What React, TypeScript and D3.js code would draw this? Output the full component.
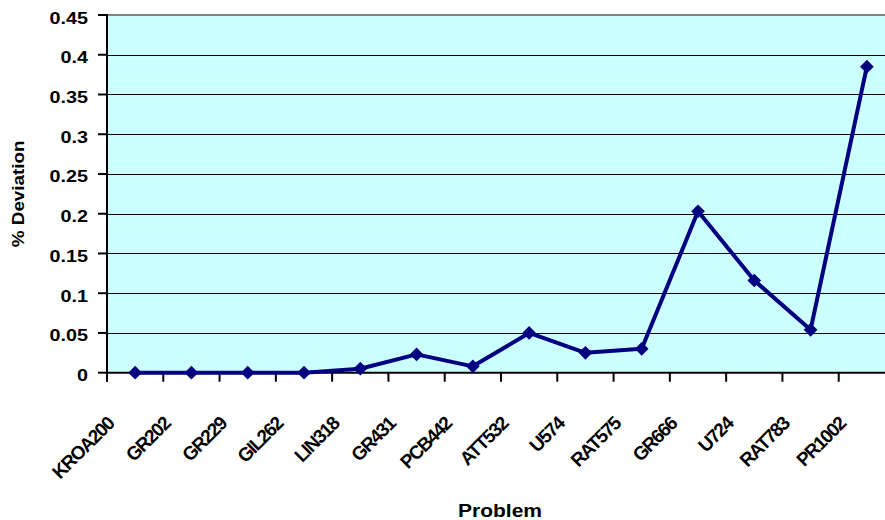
import React from "react";
import * as d3 from "d3";

const categories = ["KROA200","GR202","GR229","GIL262","LIN318","GR431","PCB442","ATT532","U574","RAT575","GR666","U724","RAT783","PR1002"];
const deviation = [0, 0, 0, 0, 0.005, 0.023, 0.008, 0.05, 0.025, 0.03, 0.203, 0.116, 0.054, 0.385];
const yTicks = [0, 0.05, 0.1, 0.15, 0.2, 0.25, 0.3, 0.35, 0.4, 0.45];
const yTickLabels = ["0","0.05","0.1","0.15","0.2","0.25","0.3","0.35","0.4","0.45"];

const W = 885, H = 520;
const plotLeft = 107, plotRight = 895, plotTop = 15, plotBottom = 372.7;
const FONT = "'Liberation Sans', Arial, Helvetica, sans-serif";

export default function App() {
  const x = d3.scaleBand<string>().domain(categories).range([plotLeft, plotRight]).paddingInner(0).paddingOuter(0);
  const y = d3.scaleLinear().domain([0, 0.45]).range([plotBottom, plotTop]);
  const cx = (c: string) => (x(c) as number) + x.bandwidth() / 2;
  const line = d3.line<number>().x((_, i) => cx(categories[i])).y((d) => y(d));
  const diamond = d3.symbol().type(d3.symbolDiamond2).size(120)();

  return (
    <svg width={W} height={H} style={{ position: "absolute", left: 0, top: 0, background: "#fff" }} fontFamily={FONT}>
      <rect x={plotLeft} y={plotTop} width={plotRight - plotLeft} height={plotBottom - plotTop} fill="#CCFFFF" />
      {yTicks.slice(1, -1).map((t) => (
        <line key={t} x1={plotLeft} x2={plotRight} y1={Math.round(y(t)) + 0.5} y2={Math.round(y(t)) + 0.5} stroke="#000" strokeWidth={1} />
      ))}
      <line x1={plotLeft} x2={plotRight} y1={y(0.45)} y2={y(0.45)} stroke="#808080" strokeWidth={2} />
      {/* y axis */}
      <line x1={plotLeft} x2={plotLeft} y1={plotTop - 1} y2={plotBottom + 9} stroke="#000" strokeWidth={2} />
      {yTicks.map((t, i) => (
        <g key={t}>
          <line x1={plotLeft - 9} x2={plotLeft} y1={y(t)} y2={y(t)} stroke="#000" strokeWidth={2} />
          <text transform={`translate(88,${y(t) + 8.5}) scale(1.2,1)`} textAnchor="end" fontSize={16.5} fontWeight="bold" fill="#000">
            {yTickLabels[i]}
          </text>
        </g>
      ))}
      {/* x axis */}
      <line x1={plotLeft} x2={plotRight} y1={plotBottom} y2={plotBottom} stroke="#000" strokeWidth={2} />
      {categories.map((c) => (
        <g key={c}>
          <line x1={x(c) as number} x2={x(c) as number} y1={plotBottom} y2={plotBottom + 9} stroke="#000" strokeWidth={2} />
          <text transform={`translate(${cx(c) - 20},425) rotate(-45)`} textAnchor="end" fontSize={19} fontWeight="bold" letterSpacing={-1.4} fill="#000">
            {c}
          </text>
        </g>
      ))}
      <path d={line(deviation) ?? ""} fill="none" stroke="#000080" strokeWidth={4} strokeLinejoin="round" />
      {deviation.map((v, i) => (
        <path key={i} d={diamond ?? ""} transform={`translate(${cx(categories[i])},${y(v)})`} fill="#000080" />
      ))}
      <text transform={`translate(23.5,${(plotTop + plotBottom) / 2}) rotate(-90) scale(1.14,1)`} textAnchor="middle" fontSize={16.5} fontWeight="bold" fill="#000">
        % Deviation
      </text>
      <text transform={`translate(500,516.5) scale(1.2,1)`} textAnchor="middle" fontSize={17.5} fontWeight="bold" fill="#000">
        Problem
      </text>
    </svg>
  );
}
